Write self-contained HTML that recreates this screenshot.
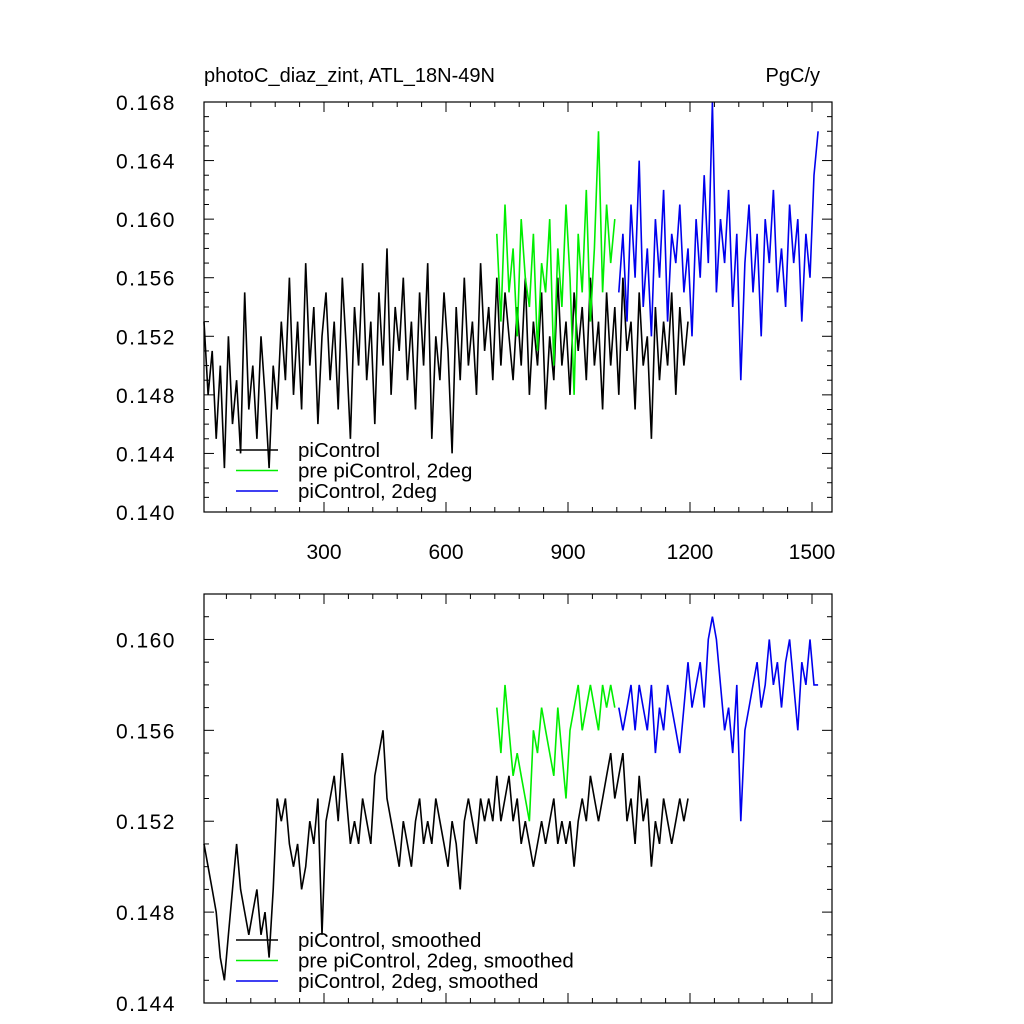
<!DOCTYPE html>
<html><head><meta charset="utf-8"><style>
body{margin:0;background:#fff}
svg{display:block;font-family:"Liberation Sans",sans-serif}
</style></head><body>
<svg id="c" width="1024" height="1024"></svg>
<script>
const rawBlack=[0.153,0.148,0.151,0.145,0.150,0.143,0.152,0.146,0.149,0.144,0.155,0.147,0.150,0.145,0.152,0.148,0.143,0.150,0.147,0.153,
0.149,0.156,0.148,0.153,0.147,0.157,0.150,0.154,0.146,0.152,0.155,0.149,0.153,0.147,0.156,0.151,0.145,0.154,0.150,0.157,
0.149,0.153,0.146,0.155,0.150,0.158,0.148,0.154,0.151,0.156,0.149,0.153,0.147,0.155,0.150,0.157,0.145,0.152,0.149,0.155,
0.151,0.144,0.154,0.149,0.156,0.150,0.153,0.148,0.157,0.151,0.154,0.149,0.156,0.150,0.155,0.152,0.149,0.154,0.150,0.156,
0.148,0.153,0.150,0.155,0.147,0.152,0.149,0.156,0.150,0.153,0.148,0.155,0.151,0.154,0.149,0.156,0.150,0.153,0.147,0.155,
0.150,0.154,0.148,0.156,0.151,0.153,0.147,0.155,0.150,0.152,0.145,0.154,0.149,0.153,0.150,0.155,0.148,0.154,0.150,0.153];
const rawGreen=[0.159,0.153,0.161,0.155,0.158,0.152,0.160,0.156,0.154,0.159,0.151,0.157,0.155,0.160,0.150,0.158,0.154,0.161,0.156,0.148,0.159,0.155,0.162,0.153,0.158,0.166,0.155,0.161,0.157,0.160];
const rawBlue=[0.155,0.159,0.153,0.161,0.156,0.164,0.154,0.158,0.152,0.160,0.156,0.162,0.153,0.159,0.157,0.161,0.155,0.158,0.152,0.160,
0.156,0.163,0.157,0.168,0.155,0.160,0.157,0.162,0.154,0.159,0.149,0.157,0.161,0.155,0.159,0.152,0.160,0.157,0.162,0.155,
0.158,0.154,0.161,0.157,0.160,0.153,0.159,0.156,0.163,0.166];
const smBlack=[0.151,0.150,0.149,0.148,0.146,0.145,0.147,0.149,0.151,0.149,0.148,0.147,0.148,0.149,0.147,0.148,0.146,0.149,0.153,0.152,
0.153,0.151,0.150,0.151,0.149,0.150,0.152,0.151,0.153,0.147,0.152,0.153,0.154,0.152,0.155,0.153,0.151,0.152,0.151,0.153,
0.152,0.151,0.154,0.155,0.156,0.153,0.152,0.151,0.150,0.152,0.151,0.150,0.152,0.153,0.151,0.152,0.151,0.153,0.152,0.151,
0.150,0.152,0.151,0.149,0.152,0.153,0.152,0.151,0.153,0.152,0.153,0.152,0.154,0.152,0.153,0.154,0.152,0.153,0.151,0.152,
0.151,0.150,0.151,0.152,0.151,0.152,0.153,0.151,0.152,0.151,0.152,0.150,0.152,0.153,0.152,0.154,0.153,0.152,0.153,0.154,
0.155,0.153,0.154,0.155,0.152,0.153,0.151,0.154,0.152,0.153,0.150,0.152,0.151,0.153,0.152,0.151,0.152,0.153,0.152,0.153];
const smGreen=[0.157,0.155,0.158,0.156,0.154,0.155,0.154,0.153,0.152,0.156,0.155,0.157,0.156,0.155,0.154,0.157,0.155,0.153,0.156,0.157,0.158,0.156,0.157,0.158,0.157,0.156,0.158,0.157,0.158,0.157];
const smBlue=[0.157,0.156,0.157,0.158,0.156,0.158,0.157,0.156,0.158,0.155,0.157,0.156,0.158,0.157,0.156,0.155,0.157,0.159,0.157,0.158,0.159,0.157,0.160,0.161,0.160,0.158,0.156,0.157,0.155,0.158,0.152,0.156,0.157,0.158,0.159,0.157,0.158,0.160,0.158,0.159,0.157,0.159,0.160,0.158,0.156,0.159,0.158,0.160,0.158,0.158];
const startBlack=5, startGreen=725, startBlue=1025, step=10;
const xTicks=[300,600,900,1200,1500];
const topYTicks=["0.140","0.144","0.148","0.152","0.156","0.160","0.164","0.168"];
const botYTicks=["0.144","0.148","0.152","0.156","0.160"];

const svg=document.getElementById('c');const NS='http://www.w3.org/2000/svg';
function mk(t,a,p){const e=document.createElementNS(NS,t);for(const k in a)e.setAttribute(k,a[k]);(p||svg).appendChild(e);return e;}
const X0=204,X1=832;
const xs=v=>202+(v)*122/300;
function panel(top,bot,ymin,ymax,yt,showX,series,legend,name){
  const g=mk('g',{});
  
  
  const ys=v=>bot-(v-ymin)/(ymax-ymin)*(bot-top);
  series.forEach(s=>{
    const pts=s.d.map((v,i)=>xs(s.s+i*step).toFixed(1)+','+ys(v).toFixed(1)).join(' ');
    const p=mk('polyline',{points:pts,fill:'none',stroke:s.c,'stroke-width':1.6},g);
    
    
  });
  mk('rect',{x:X0,y:top,width:X1-X0,height:bot-top,fill:'none',stroke:'#000','stroke-width':1.2},g);
  for(let v=60;v<1560;v+=60){const x=xs(v);if(x<X0||x>X1)continue;const L=(v%300===0)?10:5;
    mk('line',{x1:x,x2:x,y1:bot,y2:bot-L,stroke:'#000'},g);mk('line',{x1:x,x2:x,y1:top,y2:top+L,stroke:'#000'},g);}
  if(showX)xTicks.forEach(v=>{const t=mk('text',{x:xs(v),y:bot+47,'text-anchor':'middle','font-size':21},g);t.textContent=v;
    });
  for(let v=ymin;v<=ymax+1e-9;v+=0.001){const y=ys(v);if(y<top-0.5)continue;const maj=Math.abs(Math.round(v*1000)%4)===0;const L=maj?10:5;
    mk('line',{x1:X0,x2:X0+L,y1:y,y2:y,stroke:'#000'},g);mk('line',{x1:X1,x2:X1-L,y1:y,y2:y,stroke:'#000'},g);}
  yt.forEach(s=>{const t=mk('text',{x:176,y:ys(+s)+8,'text-anchor':'end','font-size':21,'letter-spacing':'1.5'},g);t.textContent=s;
    });
  legend.forEach((l,i)=>{const y=legend.y+i*20.5;
    mk('line',{x1:236,x2:278,y1:y,y2:y,stroke:l.c,'stroke-width':1.6},g);
    const t=mk('text',{x:298,y:y+7,'font-size':20.5},g);t.textContent=l.t;
    });
}
const lt=[{c:'#000',t:'piControl'},{c:'#00ee00',t:'pre piControl, 2deg'},{c:'#0000ee',t:'piControl, 2deg'}];lt.y=450;
panel(102,512,0.140,0.168,topYTicks,true,[
 {d:rawBlack,s:startBlack,c:'#000',n:'piControl-line'},
 {d:rawGreen,s:startGreen,c:'#00ee00',n:'pre-piControl-2deg-line'},
 {d:rawBlue,s:startBlue,c:'#0000ee',n:'piControl-2deg-line'}],lt,'top-panel');
const lb=[{c:'#000',t:'piControl, smoothed'},{c:'#00ee00',t:'pre piControl, 2deg, smoothed'},{c:'#0000ee',t:'piControl, 2deg, smoothed'}];lb.y=940;
panel(594,1003,0.144,0.162,botYTicks,false,[
 {d:smBlack,s:startBlack,c:'#000',n:'piControl-smoothed-line'},
 {d:smGreen,s:startGreen,c:'#00ee00',n:'pre-piControl-smoothed-line'},
 {d:smBlue,s:startBlue,c:'#0000ee',n:'piControl-2deg-smoothed-line'}],lb,'bottom-panel');
let t=mk('text',{x:204,y:82,'font-size':20});t.textContent='photoC_diaz_zint, ATL_18N-49N';

t=mk('text',{x:820,y:82,'font-size':20,'text-anchor':'end'});t.textContent='PgC/y';

</script>
</body></html>
